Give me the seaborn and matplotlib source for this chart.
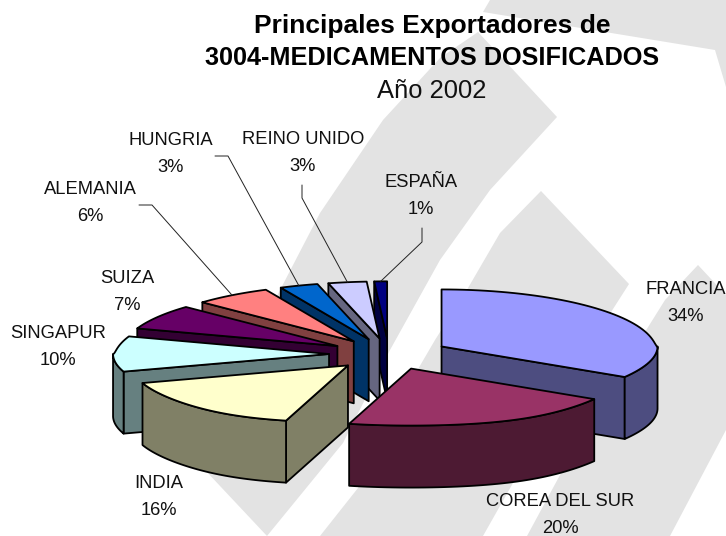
import numpy as np
import matplotlib
matplotlib.use("Agg")
import matplotlib.pyplot as plt
from matplotlib.patches import Polygon
import seaborn as sns

# datos del grafico
paises = ["FRANCIA", "COREA DEL SUR", "INDIA", "SINGAPUR", "SUIZA", "ALEMANIA",
          "HUNGRIA", "REINO UNIDO", "ESPAÑA"]
valores = [34, 20, 16, 10, 7, 6, 3, 3, 1]
colores = ["#9999FF", "#993366", "#FFFFCC", "#CCFFFF", "#660066", "#FF8080",
           "#0066CC", "#CCCCFF", "#000080"]
titulo = ["Principales Exportadores de", "3004-MEDICAMENTOS DOSIFICADOS"]
subtitulo = "Año 2002"

# geometria del pie en pixeles
CX, CY = 389, 354
RX, RY = 218, 57
ALTO = 62
EXPLOSION = 0.275
ORDEN = [8, 7, 6, 5, 4, 3, 2, 0, 1]  # de atras hacia adelante

pos_etiquetas = [(686, 303), (560, 515), (159, 497), (58, 347), (127, 292),
                 (90, 203), (171, 154), (303, 153), (421, 196)]
# codo de las lineas guia
guias = {5: [(139, 205), (152, 205)], 6: [(215, 156), (228, 156)],
         7: [(302, 185), (302, 198)], 8: [(422, 228), (422, 242)]}

# manchas grises del fondo
fondo = [
    [(490, 0), (483, 12), (715, 50), (726, 87), (726, 0)],
    [(478, 32), (557, 117), (490, 190), (440, 260), (390, 350), (343, 443),
     (267, 536), (205, 470), (240, 375), (278, 294), (320, 213), (383, 120), (440, 58)],
    [(541, 191), (629, 284), (590, 345), (550, 415), (513, 483), (483, 536),
     (320, 536), (358, 488), (400, 400), (435, 340), (468, 288), (500, 233)],
    [(698, 265), (740, 310), (740, 400), (726, 430), (670, 536), (527, 536),
     (560, 475), (610, 395), (640, 340), (665, 300)],
]


def xy(cx, cy, ang):
    # la perspectiva abre el frente y cierra el fondo
    t = np.radians(ang)
    c = np.cos(t)
    rx = 216 + 40 * np.clip(-c, 0, None) ** 6 - 10 * np.sqrt(np.clip(c, 0, None))
    return cx + rx * np.sin(t), cy - RY * c


sns.set_theme(style="white")
plt.rcParams['font.family'] = ['Liberation Sans', 'DejaVu Sans']
paleta = sns.color_palette(colores)

fig = plt.figure(figsize=(7.26, 5.36), dpi=100)
ax = fig.add_axes([0, 0, 1, 1])
ax.set_xlim(0, 726)
ax.set_ylim(536, 0)
ax.axis("off")

for f in fondo:
    ax.add_patch(Polygon(f, closed=True, fc="#E3E3E3", ec="none", zorder=0))

fin = np.cumsum(valores) / np.sum(valores) * 360
ini = np.concatenate(([0], fin[:-1]))
z = 2
for i in ORDEN:
    a0, a1 = ini[i], fin[i]
    med = (a0 + a1) / 2
    t = np.radians(med)
    ax0 = CX + EXPLOSION * RX * np.sin(t)
    ay0 = CY - EXPLOSION * RY * np.cos(t)
    tapa = paleta[i]
    lado = tuple(c * 0.5 for c in tapa)
    kw = dict(closed=True, ec="black", lw=1.3, joinstyle="round")

    # caras radiales visibles
    for ang, normal in ((a0, a0 - 90), (a1, a1 + 90)):
        if np.cos(np.radians(normal)) < -1e-6:
            px, py = xy(ax0, ay0, ang)
            ax.add_patch(Polygon([(ax0, ay0), (px, py), (px, py + ALTO), (ax0, ay0 + ALTO)],
                                 fc=lado, zorder=z, **kw))
            z += 1
    # borde curvo
    b0, b1 = max(a0, 90), min(a1, 270)
    if b1 > b0:
        arco = np.linspace(b0, b1, 50)
        px, py = xy(ax0, ay0, arco)
        ax.add_patch(Polygon(np.r_[np.c_[px, py], np.c_[px, py + ALTO][::-1]],
                             fc=lado, zorder=z, **kw))
        z += 1
    # tapa
    arco = np.linspace(a0, a1, 60)
    px, py = xy(ax0, ay0, arco)
    ax.add_patch(Polygon(np.r_[[(ax0, ay0)], np.c_[px, py]], fc=tapa, zorder=z, **kw))
    z += 1

    # linea guia
    if i in guias:
        fx, fy = xy(ax0, ay0, med)
        pts = guias[i] + [(fx, fy)]
        ax.plot([p[0] for p in pts], [p[1] for p in pts], color="#222222", lw=0.7, zorder=z)

    ex, ey = pos_etiquetas[i]
    ax.text(ex, ey, f"{paises[i]}\n{valores[i]}%", ha="center", va="center", fontsize=13.2,
            linespacing=1.72, color="#111111", zorder=50)

ax.text(432, 26, titulo[0], ha="center", va="center", fontsize=19, fontweight="bold", color="black", zorder=50)
ax.text(432, 58, titulo[1], ha="center", va="center", fontsize=18.2, fontweight="bold", color="black", zorder=50)
ax.text(432, 91, subtitulo, ha="center", va="center", fontsize=18.4, color="#111111", zorder=50)

fig.savefig("out.png", dpi=100)
